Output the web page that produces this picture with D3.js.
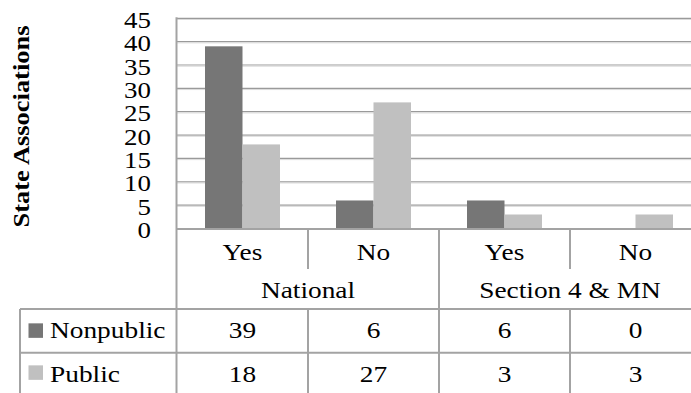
<!DOCTYPE html>
<html>
<head>
<meta charset="utf-8">
<script src="https://cdn.jsdelivr.net/npm/d3@7"></script>
<style>
  html, body { margin: 0; padding: 0; background: #fff; }
  svg { display: block; }
  text { font-family: "Liberation Serif", "Times New Roman", serif; fill: #000; }
</style>
</head>
<body>
<svg id="chart" width="691" height="393"></svg>
<script>
// Chart data
const groups = ["National", "Section 4 & MN"];
const categories = ["Yes", "No", "Yes", "No"];
const categoryGroup = [0, 0, 1, 1];
const seriesNames = ["Nonpublic", "Public"];
const nonpublic = [39, 6, 6, 0];
const publicVals = [18, 27, 3, 3];
const yTicks = [0, 5, 10, 15, 20, 25, 30, 35, 40, 45];
const yTitle = "State Associations";
const colors = ["#767676", "#c0c0c0"];

(function () {
const svg = d3.select("#chart");
const W = 691;
const plotL = 177, plotR = 701, plotT = 18.3, plotB = 228.5;
const fs = 23, sx = 1.19;
const lineColor = "#a3a3a3";

const x0 = d3.scaleBand().domain(d3.range(categories.length)).range([plotL, plotR]).padding(0);
const x1 = d3.scaleBand().domain(seriesNames).range([0, x0.bandwidth()]).paddingInner(0).paddingOuter(0.747);
const y = d3.scaleLinear().domain([0, 45]).range([plotB, plotT]);

function label(g, x, yy, txt, anchor, opts = {}) {
  return g.append("text")
    .attr("transform", `translate(${x},${yy})` + (opts.rotate ? ` rotate(${opts.rotate})` : "") + ` scale(${opts.sx || sx},1)`)
    .attr("text-anchor", anchor)
    .style("font-size", (opts.size || fs) + "px")
    .style("font-weight", opts.bold ? "bold" : "normal")
    .text(txt);
}

// Horizontal gridlines (dark line with a soft highlight beneath)
const grid = svg.append("g");
yTicks.filter(d => d > 0).forEach(t => {
  grid.append("line").attr("x1", plotL).attr("x2", W).attr("y1", y(t)).attr("y2", y(t))
    .attr("stroke", "#9a9a9a").attr("stroke-width", 1.2);
  grid.append("line").attr("x1", plotL).attr("x2", W).attr("y1", y(t) + 1.2).attr("y2", y(t) + 1.2)
    .attr("stroke", "#dadada").attr("stroke-width", 1);
});

// Bars
const series = [nonpublic, publicVals];
const bars = svg.append("g");
series.forEach((vals, si) => {
  bars.selectAll(null).data(vals).join("rect")
    .attr("x", (d, i) => x0(i) + x1(seriesNames[si]))
    .attr("width", x1.bandwidth())
    .attr("y", d => y(d))
    .attr("height", d => y(0) - y(d))
    .attr("fill", colors[si]);
});

// Y tick labels
const yl = svg.append("g");
yTicks.forEach(t => label(yl, 151, y(t) + 9.6, String(t), "end", { sx: 1.17 }));

// Y title
label(svg, 29, 126.5, yTitle, "middle", { rotate: -90, bold: true, size: 23, sx: 1.15 });

// Table below the plot
const tbl = svg.append("g");
const rowCat = [plotB, 269], row1 = [309, 352.7], row2 = [352.7, 393];
function vline(x, y1, y2) {
  tbl.append("line").attr("x1", x).attr("x2", x).attr("y1", y1).attr("y2", y2)
    .attr("stroke", lineColor).attr("stroke-width", 2);
}
function hline(x1, x2, yy, w) {
  tbl.append("line").attr("x1", x1).attr("x2", x2).attr("y1", yy).attr("y2", yy)
    .attr("stroke", lineColor).attr("stroke-width", w || 2);
}
// plot left edge continues down through the table
vline(plotL - 0.5, plotT - 1, 393);
// category separators
d3.range(1, categories.length).forEach(i => {
  const xx = x0(i);
  const isGroupEdge = categoryGroup[i] !== categoryGroup[i - 1];
  if (isGroupEdge) vline(xx, plotB, 393);
  else { vline(xx, plotB, rowCat[1]); vline(xx, row1[0], 393); }
});
// row lines
hline(20, W, row1[0]);
hline(20, W, row2[0]);
vline(20, row1[0], 393);
// category axis line
hline(plotL, W, plotB + 0.5, 2.2);

// category labels
categories.forEach((c, i) => label(tbl, x0(i) + x0.bandwidth() / 2, 260, c, "middle"));
// group labels
groups.forEach((g, gi) => {
  const idx = categoryGroup.map((d, i) => d === gi ? i : -1).filter(i => i >= 0);
  const gx = (x0(idx[0]) + x0(idx[idx.length - 1]) + x0.bandwidth()) / 2;
  label(tbl, gx, 298, g, "middle");
});
// legend cells and values
const rowBase = [338, 381.5];
const rowMid = [(row1[0] + row1[1]) / 2, (row2[0] + row2[1]) / 2];
series.forEach((vals, si) => {
  tbl.append("rect").attr("x", 28.5).attr("y", rowMid[si] - 7.5).attr("width", 14.5).attr("height", 14.5)
    .attr("fill", colors[si]);
  label(tbl, 50, rowBase[si], seriesNames[si], "start");
  vals.forEach((v, i) => label(tbl, x0(i) + x0.bandwidth() / 2, rowBase[si], String(v), "middle"));
});
})();
</script>
</body>
</html>
